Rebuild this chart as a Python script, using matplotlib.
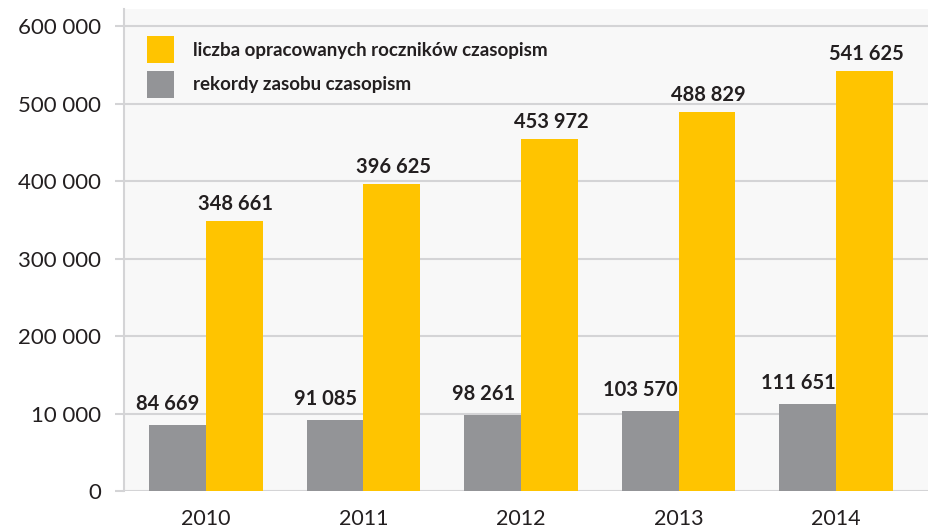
import numpy as np
import matplotlib
matplotlib.use('Agg')
import matplotlib.pyplot as plt

# Data
years = ['2010', '2011', '2012', '2013', '2014']
rekordy = [84669, 91085, 98261, 103570, 111651]
roczniki = [348661, 396625, 453972, 488829, 541625]
ytick_values = [0, 100000, 200000, 300000, 400000, 500000, 600000]
ytick_labels = ['0', '10 000', '200 000', '300 000', '400 000', '500 000', '600 000']

YELLOW = '#FFC400'
GRAY = '#939497'
GRID = '#D4D4D6'
TEXT = '#231F20'

plt.rcParams['font.family'] = ['Lato', 'DejaVu Sans']

fig = plt.figure(figsize=(9.29, 5.28), dpi=100)
ax = fig.add_axes([124 / 929, 37 / 528, 805 / 929, 482 / 528])
ax.set_facecolor('#F8F8F8')

x = np.arange(len(years))
w = 0.36
b1 = ax.bar(x - w / 2, rekordy, w, color=GRAY, label='rekordy zasobu czasopism', zorder=3)
b2 = ax.bar(x + w / 2, roczniki, w, color=YELLOW, label='liczba opracowanych roczników czasopism', zorder=3)


def fmt(v):
    return f'{v:,}'.replace(',', ' ')


for rect, v in zip(b1, rekordy):
    ax.annotate(fmt(v), (rect.get_x() + rect.get_width() / 2 - 0.06, v), xytext=(0, 8),
                textcoords='offset points', ha='center', va='bottom',
                fontsize=14.5, fontweight='bold', color=TEXT, zorder=4)
for rect, v in zip(b2, roczniki):
    ax.annotate(fmt(v), (rect.get_x() + rect.get_width() / 2 + 0.01, v), xytext=(0, 5),
                textcoords='offset points', ha='center', va='bottom',
                fontsize=14.5, fontweight='bold', color=TEXT, zorder=4)

ax.set_xlim(-0.52, 4.59)
ax.set_ylim(0, 622000)
ax.set_xticks(x)
ax.set_xticklabels(years, fontsize=15.5, color=TEXT)
ax.set_yticks(ytick_values)
ax.set_yticklabels(ytick_labels, fontsize=16, color=TEXT)
ax.tick_params(axis='x', length=0, pad=13)
ax.tick_params(axis='y', length=6.5, width=1.5, color=GRID, pad=10)

ax.grid(axis='y', color=GRID, linewidth=1.5, zorder=1)
ax.set_axisbelow(True)
for s in ['top', 'right', 'bottom']:
    ax.spines[s].set_visible(False)
ax.spines['left'].set_color(GRID)
ax.spines['left'].set_linewidth(1.5)

handles, labels = ax.get_legend_handles_labels()
leg = ax.legend(handles[::-1], labels[::-1], loc='upper left',
                bbox_to_anchor=(147 / 929, 492 / 528), bbox_transform=fig.transFigure,
                frameon=False, borderpad=0, borderaxespad=0,
                handlelength=1.44, handleheight=1.84, handletextpad=1.0,
                labelspacing=0.42, prop={'size': 13.5, 'weight': 'bold'})
for t in leg.get_texts():
    t.set_color(TEXT)

fig.savefig('out.png', dpi=100)
